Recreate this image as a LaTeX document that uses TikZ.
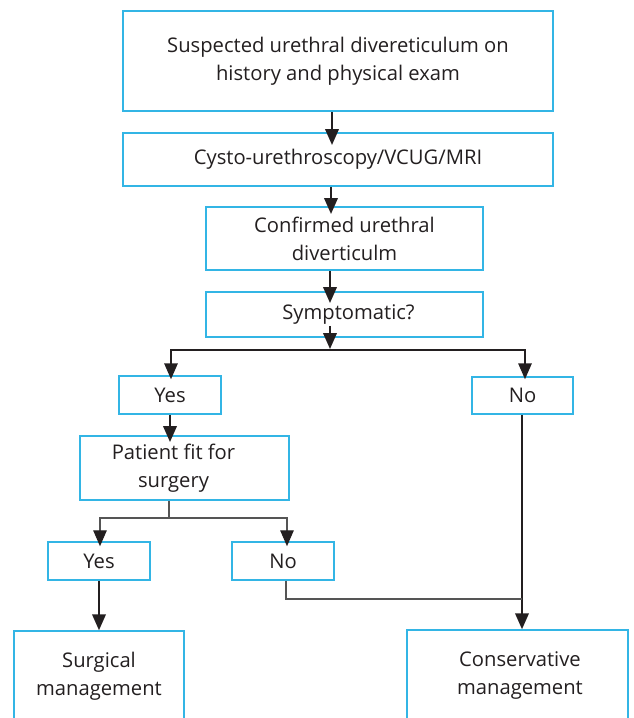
\documentclass[tikz,border=0pt]{standalone}
\usepackage{fontspec}
\setmainfont{Open Sans}
\usetikzlibrary{arrows.meta,calc}
\definecolor{boxblue}{HTML}{33B5E5}
\definecolor{txt}{HTML}{231F20}
\definecolor{thin}{HTML}{555555}
\tikzset{
  box/.style={draw=boxblue, line width=1.5pt, fill=white, align=center, text=txt,
    font=\fontsize{20.2}{28}\selectfont, inner sep=0pt},
  arr/.style={draw=txt, line width=2.2pt, -{Triangle[length=16pt,width=13.5pt]}},
  thinline/.style={draw=thin, line width=1.4pt},
  thinarr/.style={thinline, -{Triangle[length=16pt,width=13.5pt,color=txt]}},
}
\begin{document}
\begin{tikzpicture}[x=1pt,y=-1pt]
\useasboundingbox (0,0) rectangle (633,718);
% boxes
\node[box, minimum width=430pt, minimum height=100pt] (b1) at (338,61) {Suspected urethral divereticulum on\\history and physical exam};
\node[box, minimum width=430pt, minimum height=53pt] (b2) at (338,159.5) {Cysto-urethroscopy/VCUG/MRI};
\node[box, minimum width=277pt, minimum height=63pt] (b3) at (344.5,238.5) {Confirmed urethral\\diverticulm};
\node[box, minimum width=277pt, minimum height=45pt] (b4) at (344.5,314.5) {\hspace*{8pt}Symptomatic?};
\node[box, minimum width=102pt, minimum height=38pt] (y1) at (170,395) {Yes};
\node[box, minimum width=101pt, minimum height=37pt] (n1) at (522.5,395.5) {No};
\node[box, minimum width=209pt, minimum height=64pt] (p) at (184.5,468) {Patient fit for\hspace*{22pt}\\surgery\hspace*{22pt}};
\node[box, minimum width=102pt, minimum height=38pt] (y2) at (99,561) {Yes};
\node[box, minimum width=102pt, minimum height=38pt] (n2) at (283,561) {No};
\node[box, minimum width=170pt, minimum height=90pt] (s) at (99,676) {Surgical\\management};
\node[box, minimum width=221pt, minimum height=92pt] (c) at (517.5,676) {\hspace*{5pt}Conservative\\\hspace*{5pt}management};
% coordinates
\coordinate (t12) at (332,145);
\coordinate (t23) at (331,214);
\coordinate (t34) at (330,303);
\coordinate (sp1) at (330,350);
\coordinate (sp2) at (169,518);
\coordinate (tp) at (170,442);
\coordinate (jn) at (522,599);
% connectors
\draw[arr] (b1.south -| t12) -- (t12);
\draw[arr] (b2.south -| t23) -- (t23);
\draw[arr] (b3.south -| t34) -- (t34);
\draw[arr] ($(b4.south -| sp1)+(0,-12)$) -- ($(sp1)+(0,-1)$);
\draw[arr, line width=1.6pt] (sp1) -| ($(y1.north)+(1,4)$);
\draw[arr, line width=1.6pt] (sp1) -| ($(n1.north)+(2.5,3)$);
\draw[arr] (y1.south -| tp) -- (tp);
\draw[thinline] (p.south -| sp2) -- (sp2);
\draw[thinarr] (sp2) -| ($(y2.north)+(1,5)$);
\draw[thinarr] (sp2) -| ($(n2.north)+(4,5)$);
\draw[arr] (y2.south) -- (y2.south |- s.north);
\draw[arr] (n1.south -| jn) -- (jn |- c.north);
\draw[thinline] ($(n2.south)+(3,0)$) |- (jn);
\end{tikzpicture}
\end{document}
